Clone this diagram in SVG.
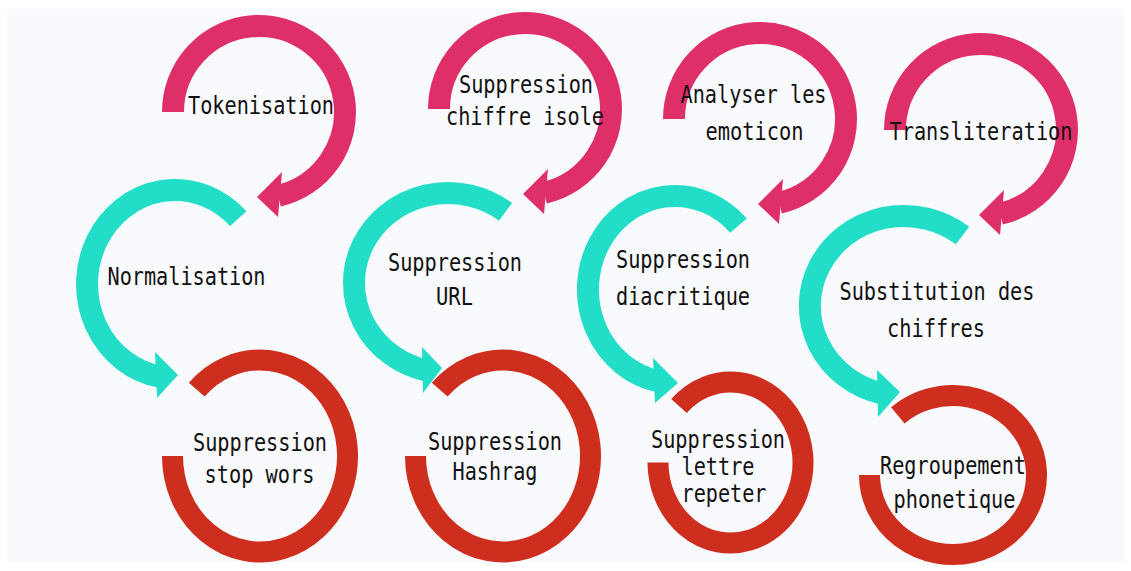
<svg xmlns="http://www.w3.org/2000/svg" width="1131" height="571" viewBox="0 0 1131 571">
  <style>
    .ring { fill: none; stroke-linecap: butt; }
    .pink { stroke: #DF2F68; stroke-width: 22; }
    .teal { stroke: #22DDC8; stroke-width: 22; }
    .red { stroke: #CE2E1E; stroke-width: 21; }
    .head-pink { fill: #DF2F68; }
    .head-teal { fill: #22DDC8; }
    .label { font-family: "DejaVu Sans Mono", "Liberation Mono", monospace; font-size: 24.5px; fill: #111; text-anchor: middle; }
  </style>

  <!-- canvas -->
  <rect x="0" y="0" width="1131" height="571" fill="#ffffff"/>
  <rect x="7" y="9" width="1117" height="553" fill="#f9fafd"/>

  <!-- column 1 -->
  <g id="tokenisation">
    <path class="ring pink" d="M173,112 A86,86 0 1 1 278.3,195.8"/>
    <text class="label" x="261" y="114" textLength="146" lengthAdjust="spacingAndGlyphs">Tokenisation</text>
  </g>
  <g id="normalisation">
    <path class="ring teal" d="M238.3,218.7 A88,94 0 1 0 159.7,376.6"/>
    <text class="label" x="186.5" y="285" textLength="158" lengthAdjust="spacingAndGlyphs">Normalisation</text>
  </g>
  <g id="suppression-stop-words">
    <path class="ring red" d="M196.7,389.7 A87.5,96 0 1 1 172.5,456"/>
    <text class="label" x="260" y="451" textLength="134" lengthAdjust="spacingAndGlyphs">Suppression</text>
    <text class="label" x="259.5" y="483" textLength="110" lengthAdjust="spacingAndGlyphs">stop wors</text>
  </g>

  <!-- column 2 -->
  <g id="suppression-chiffre-isole">
    <path class="ring pink" d="M439,109 A86,86 0 1 1 544.3,192.8"/>
    <text class="label" x="526" y="93" textLength="134" lengthAdjust="spacingAndGlyphs">Suppression</text>
    <text class="label" x="525" y="125" textLength="158" lengthAdjust="spacingAndGlyphs">chiffre isole</text>
  </g>
  <g id="suppression-url">
    <path class="ring teal" d="M505.5,211.8 A94,90 0 1 0 426.9,370.7"/>
    <text class="label" x="455" y="271" textLength="134" lengthAdjust="spacingAndGlyphs">Suppression</text>
    <text class="label" x="454.5" y="305" textLength="37" lengthAdjust="spacingAndGlyphs">URL</text>
  </g>
  <g id="suppression-hashtag">
    <path class="ring red" d="M439.7,389.7 A87.5,96 0 1 1 415.5,456"/>
    <text class="label" x="495" y="450" textLength="134" lengthAdjust="spacingAndGlyphs">Suppression</text>
    <text class="label" x="495" y="480" textLength="85" lengthAdjust="spacingAndGlyphs">Hashrag</text>
  </g>

  <!-- column 3 -->
  <g id="analyser-emoticon">
    <path class="ring pink" d="M674,119 A86,86 0 1 1 779.3,202.8"/>
    <text class="label" x="753.5" y="103" textLength="146" lengthAdjust="spacingAndGlyphs">Analyser les</text>
    <text class="label" x="754.5" y="140" textLength="98" lengthAdjust="spacingAndGlyphs">emoticon</text>
  </g>
  <g id="suppression-diacritique">
    <path class="ring teal" d="M738.5,225.6 A87,93.5 0 1 0 657.7,381.1"/>
    <text class="label" x="683" y="268" textLength="134" lengthAdjust="spacingAndGlyphs">Suppression</text>
    <text class="label" x="683" y="305" textLength="134" lengthAdjust="spacingAndGlyphs">diacritique</text>
  </g>
  <g id="suppression-lettre-repeter">
    <path class="ring red" d="M679,405.9 A72.5,80.5 0 1 1 658,462.5"/>
    <text class="label" x="718" y="448" textLength="134" lengthAdjust="spacingAndGlyphs">Suppression</text>
    <text class="label" x="718" y="475" textLength="73" lengthAdjust="spacingAndGlyphs">lettre</text>
    <text class="label" x="724" y="502" textLength="85" lengthAdjust="spacingAndGlyphs">repeter</text>
  </g>

  <!-- column 4 -->
  <g id="transliteration">
    <path class="ring pink" d="M895,130 A86,86 0 1 1 1000.3,213.8"/>
    <text class="label" x="981" y="140" textLength="183" lengthAdjust="spacingAndGlyphs">Transliteration</text>
  </g>
  <g id="substitution-chiffres">
    <path class="ring teal" d="M962.5,235.6 A94,90 0 1 0 881.3,393.3"/>
    <text class="label" x="937" y="300" textLength="195" lengthAdjust="spacingAndGlyphs">Substitution des</text>
    <text class="label" x="936" y="337" textLength="98" lengthAdjust="spacingAndGlyphs">chiffres</text>
  </g>
  <g id="regroupement-phonetique">
    <path class="ring red" d="M897.8,415.4 A83.5,79.5 0 1 1 869.5,475"/>
    <text class="label" x="953" y="474" textLength="146" lengthAdjust="spacingAndGlyphs">Regroupement</text>
    <text class="label" x="954.5" y="508" textLength="122" lengthAdjust="spacingAndGlyphs">phonetique</text>
  </g>

  <!-- arrowheads leading each step into the next -->
  <g id="connectors">
    <polygon class="head-pink" points="257,197 282,172 278,217"/>
    <polygon class="head-pink" points="523,194 548,169 544,214"/>
    <polygon class="head-pink" points="758,204 783,179 779,224"/>
    <polygon class="head-pink" points="979,215 1004,190 1000,235"/>
    <polygon class="head-teal" points="178,375 155,352 157,398"/>
    <polygon class="head-teal" points="442,368 422,347 423,393"/>
    <polygon class="head-teal" points="678,383 653,358 655,403"/>
    <polygon class="head-teal" points="900,392 877,370 878,417"/>
  </g>
</svg>
